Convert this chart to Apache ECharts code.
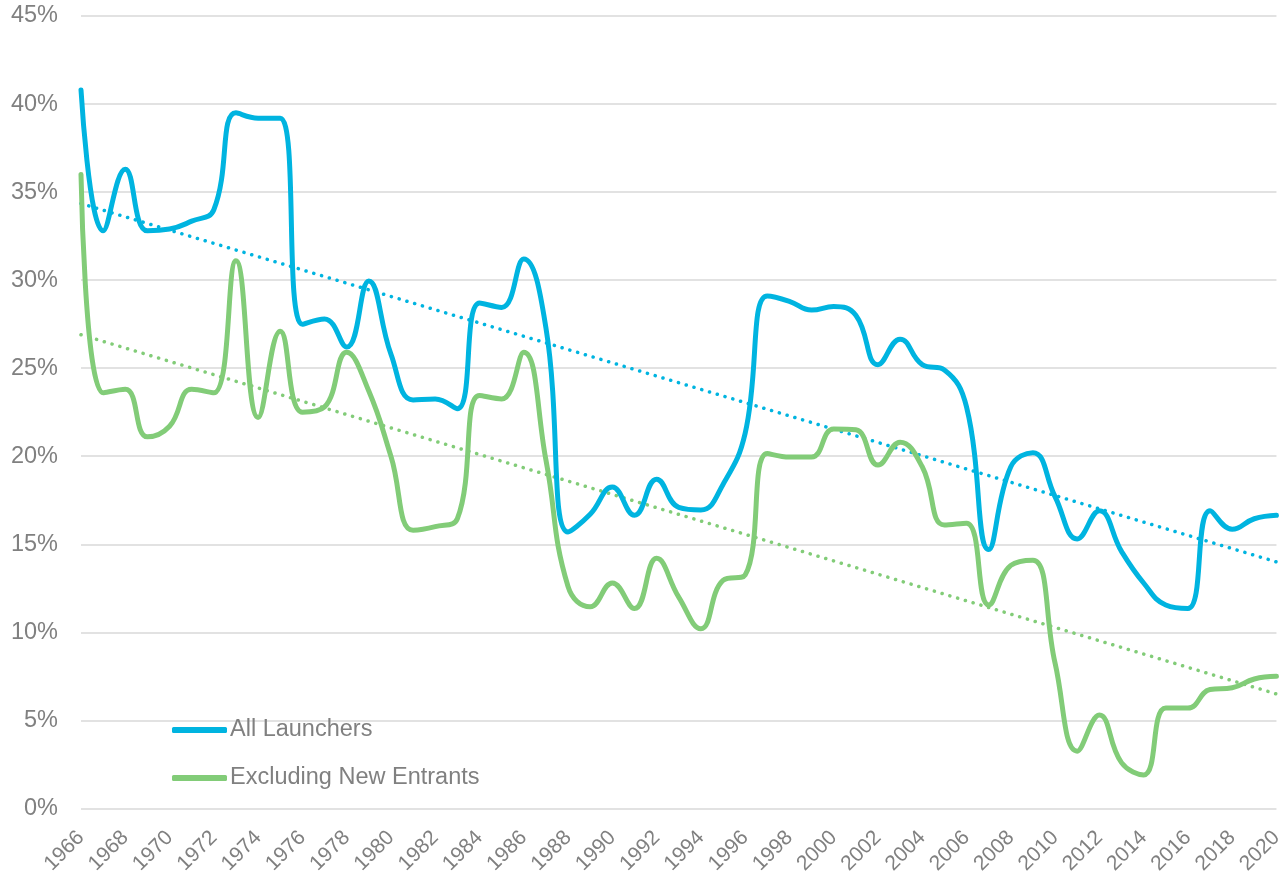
<!DOCTYPE html>
<html>
<head>
<meta charset="utf-8">
<script src="https://cdn.jsdelivr.net/npm/echarts@6/dist/echarts.min.js"></script>
<style>
  html, body { margin: 0; padding: 0; background: #fff; }
  #chart { width: 1286px; height: 877px; }
</style>
</head>
<body>
<div id="chart"></div>
<script>
// years on the category axis
const years = [];
for (let y = 1966; y <= 2020; y++) years.push(String(y));

// values, in percent
const allLaunchers = [
  40.8, 32.8, 36.3, 32.8, 32.9, 33.35, 34.0, 39.5, 39.2, 39.2,
  27.5, 27.8, 26.2, 29.95, 25.8, 23.2, 23.25, 22.7, 28.7, 28.45,
  31.2, 27.3, 15.7, 16.7, 18.25, 16.65, 18.7, 17.1, 16.95, 18.4,
  21.3, 29.1, 28.8, 28.3, 28.5, 28.0, 25.2, 26.65, 25.2, 24.9,
  22.8, 14.7, 19.4, 20.2, 17.7, 15.3, 16.9, 14.6, 12.8, 11.55,
  11.35, 16.9, 15.85, 16.45, 16.65
];
const excludingNew = [
  36.0, 23.6, 23.8, 21.1, 21.7, 23.8, 23.6, 31.1, 22.2, 27.1,
  22.5, 22.8, 25.9, 23.7, 20.0, 15.8, 16.0, 16.45, 23.45, 23.25,
  25.9, 19.8, 12.6, 11.45, 12.8, 11.35, 14.2, 12.0, 10.2, 12.95,
  13.25, 20.15, 19.95, 19.95, 21.55, 21.5, 19.5, 20.8, 19.4, 16.1,
  16.2, 11.55, 13.8, 14.1, 8.25, 3.25, 5.3, 2.6, 1.9, 5.7,
  5.7, 6.75, 6.85, 7.35, 7.5
];
// linear trend lines: value at first and last year
const trendAllEnds = [34.35, 14.0];
const trendExclEnds = [26.9, 6.5];

const yTicks = [0, 5, 10, 15, 20, 25, 30, 35, 40, 45];

const BLUE = '#00B4E0';
const GREEN = '#82CC78';
const TEXT = '#808080';

function trendSeries(ends) {
  return years.map((y, i) => i === 0 ? ends[0] : (i === years.length - 1 ? ends[1] : null));
}

let myChart = echarts.init(document.getElementById('chart'));
let options = {
  animation: false,
  grid: { left: 81, right: 4, top: 16, bottom: 68 },
  legend: {
    orient: 'vertical',
    left: 172,
    top: 718,
    padding: 0,
    itemWidth: 55,
    itemHeight: 6,
    itemGap: 24,
    icon: 'roundRect',
    textStyle: { fontFamily: 'Liberation Sans', fontSize: 23.5, color: TEXT, padding: [0, 0, 0, -2] },
    data: ['All Launchers', 'Excluding New Entrants']
  },
  xAxis: {
    type: 'category',
    data: years,
    boundaryGap: false,
    axisLine: { show: false },
    axisTick: { show: false },
    axisLabel: {
      interval: 1,
      rotate: 45,
      margin: 26,
      fontFamily: 'Liberation Sans',
      fontSize: 21,
      color: TEXT
    },
    splitLine: { show: false }
  },
  yAxis: {
    type: 'value',
    min: yTicks[0],
    max: yTicks[yTicks.length - 1],
    interval: 5,
    axisLine: { show: false },
    axisTick: { show: false },
    axisLabel: {
      formatter: '{value}%',
      margin: 23,
      fontFamily: 'Liberation Sans',
      fontSize: 23.5,
      color: TEXT
    },
    splitLine: { lineStyle: { color: '#d9d9d9', width: 1.5 } }
  },
  series: [
    {
      name: 'All Launchers',
      type: 'line',
      data: allLaunchers,
      smooth: 0.45,
      symbol: 'none',
      color: BLUE,
      lineStyle: { width: 5, cap: 'round', join: 'round' },
      z: 3
    },
    {
      name: 'Excluding New Entrants',
      type: 'line',
      data: excludingNew,
      smooth: 0.45,
      symbol: 'none',
      color: GREEN,
      lineStyle: { width: 5, cap: 'round', join: 'round' },
      z: 3
    },
    {
      name: 'trend all',
      type: 'line',
      data: trendSeries(trendAllEnds),
      connectNulls: true,
      symbol: 'none',
      color: BLUE,
      lineStyle: { width: 3.5, type: [0.1, 8], cap: 'round' },
      z: 2
    },
    {
      name: 'trend excl',
      type: 'line',
      data: trendSeries(trendExclEnds),
      connectNulls: true,
      symbol: 'none',
      color: GREEN,
      lineStyle: { width: 3.5, type: [0.1, 8], cap: 'round' },
      z: 2
    }
  ]
};
myChart.setOption(options);
</script>
</body>
</html>
